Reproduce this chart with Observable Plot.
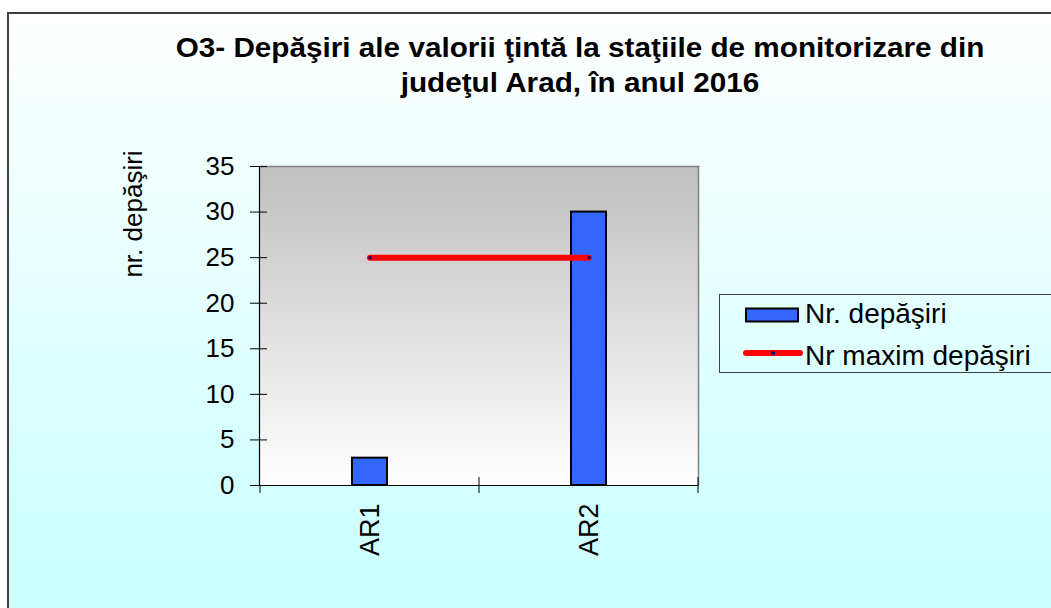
<!DOCTYPE html>
<html>
<head>
<meta charset="utf-8">
<script src="https://cdn.jsdelivr.net/npm/d3@7"></script>
<script src="https://cdn.jsdelivr.net/npm/@observablehq/plot@0.6"></script>
<style>
  html, body { margin: 0; padding: 0; background: #ffffff; }
  body { width: 1051px; height: 608px; overflow: hidden; position: relative; font-family: "Liberation Sans", Arial, sans-serif; }
  #frame { position: absolute; left: 7px; top: 12px; width: 1060px; height: 610px;
    border-left: 2px solid #404040; border-top: 2px solid #404040;
    background: linear-gradient(180deg, #ffffff 0%, #ccffff 90%, #ccffff 100%); }
  #chart { position: absolute; left: 0; top: 0; }
  #title { position: absolute; left: 80px; top: 31px; width: 1000px; text-align: center;
    font-weight: bold; font-size: 27px; line-height: 35px; white-space: nowrap; color: #000;
    transform: scaleX(1.1); transform-origin: 50% 50%; }
  #ylabel { position: absolute; left: 133px; top: 214px; transform: translate(-50%, -50%) rotate(-90deg);
    font-size: 26px; white-space: nowrap; color: #000; }
  #legend { position: absolute; left: 719px; top: 294px; width: 340px; height: 77px;
    border: 1px solid #404040; }
  .lg-text { position: absolute; left: 85px; font-size: 28px; line-height: 30px; white-space: nowrap; color: #000; }
  .lg-sw { position: absolute; }
</style>
</head>
<body>
<div id="frame"></div>
<div id="chart"></div>
<div id="title"></div>
<div id="ylabel"></div>
<div id="legend"></div>
<script>
// ---- data ----
const titleLines = ["O3- Depăşiri ale valorii ţintă la staţiile de monitorizare din", "judeţul Arad, în anul 2016"];
const yAxisTitle = "nr. depăşiri";
const stations = ["AR1", "AR2"];
const nrDepasiri = [3, 30];
const nrMaximDepasiri = [25, 25];
const yTicks = [0, 5, 10, 15, 20, 25, 30, 35];
const seriesNames = ["Nr. depăşiri", "Nr maxim depăşiri"];

const rows = stations.map((s, i) => ({station: s, nr: nrDepasiri[i], max: nrMaximDepasiri[i]}));

// gradient plot-area background (function mark)
function plotAreaBg(index, scales, values, dims) {
  const g = d3.create("svg:g");
  const defs = g.append("defs");
  const lg = defs.append("linearGradient").attr("id", "plotGrad").attr("x1", 0).attr("y1", 0).attr("x2", 0).attr("y2", 1);
  lg.append("stop").attr("offset", "0%").attr("stop-color", "#bfbfbf");
  lg.append("stop").attr("offset", "100%").attr("stop-color", "#ffffff");
  g.append("rect")
    .attr("x", dims.marginLeft).attr("y", dims.marginTop)
    .attr("width", dims.width - dims.marginLeft - dims.marginRight)
    .attr("height", dims.height - dims.marginTop - dims.marginBottom)
    .attr("fill", "url(#plotGrad)");
  return g.node();
}

// category boundary ticks on the x axis (derived from the band scale)
function xBoundaryTicks(index, scales, values, dims) {
  const x = scales.x;
  const bw = x.bandwidth();
  const xs = stations.map(s => x(s));
  xs.push(x(stations[stations.length - 1]) + bw);
  const y0 = scales.y(0);
  const g = d3.create("svg:g").attr("stroke", "#000").attr("stroke-width", 1);
  xs.forEach((px, i) => {
    g.append("line").attr("x1", px).attr("x2", px)
      .attr("y1", i === 0 ? y0 : y0 - 8).attr("y2", y0 + 8);
  });
  return g.node();
}

const chart = Plot.plot({
  width: 1051,
  height: 608,
  marginLeft: 259,
  marginRight: 353,
  marginTop: 166,
  marginBottom: 123,
  style: {background: "transparent", fontFamily: "'Liberation Sans', Arial, sans-serif", fontSize: "26px", color: "#000"},
  x: {domain: stations, padding: 0, label: null},
  y: {domain: [0, 35], ticks: yTicks, label: null},
  marks: [
    plotAreaBg,
    Plot.frame({anchor: "top", stroke: "#808080", strokeWidth: 1.5}),
    Plot.frame({anchor: "right", stroke: "#808080", strokeWidth: 1.5}),
    Plot.barY(rows, {x: "station", y: "nr", fill: "#3366ff", stroke: "#000", strokeWidth: 2, insetLeft: 92, insetRight: 92}),
    Plot.ruleY([0], {stroke: "#000", strokeWidth: 1.2}),
    Plot.frame({anchor: "left", stroke: "#000", strokeWidth: 1.2}),
    Plot.axisY({ticks: yTicks, tickSize: 17, dx: 8, tickPadding: 16, stroke: "#000", fontSize: 26, label: null}),
    Plot.axisX({tickRotate: -90, tickSize: 0, tickPadding: 18, fontSize: 27, label: null}),
    xBoundaryTicks,
    Plot.lineY(rows, {x: "station", y: "max", stroke: "#ff0000", strokeWidth: 6, strokeLinecap: "round"}),
    Plot.dot(rows, {x: "station", y: "max", symbol: "square", r: 1.6, fill: "#000080", stroke: null})
  ]
});
document.getElementById("chart").appendChild(chart);

// title & y axis title
document.getElementById("title").innerHTML = titleLines.join("<br>");
document.getElementById("ylabel").textContent = yAxisTitle;

// legend
const legend = document.getElementById("legend");
legend.innerHTML = `
  <svg class="lg-sw" style="left:24px;top:12px" width="58" height="18">
    <rect x="2" y="1.5" width="52" height="13" fill="#3366ff" stroke="#000" stroke-width="2"/>
  </svg>
  <div class="lg-text" style="top:4px">${seriesNames[0]}</div>
  <svg class="lg-sw" style="left:22px;top:50px" width="62" height="16">
    <line x1="4" x2="58" y1="8" y2="8" stroke="#ff0000" stroke-width="6" stroke-linecap="round"/>
    <rect x="29" y="6.5" width="4" height="3" fill="#000080"/>
  </svg>
  <div class="lg-text" style="top:46px">${seriesNames[1]}</div>
`;
</script>
</body>
</html>
